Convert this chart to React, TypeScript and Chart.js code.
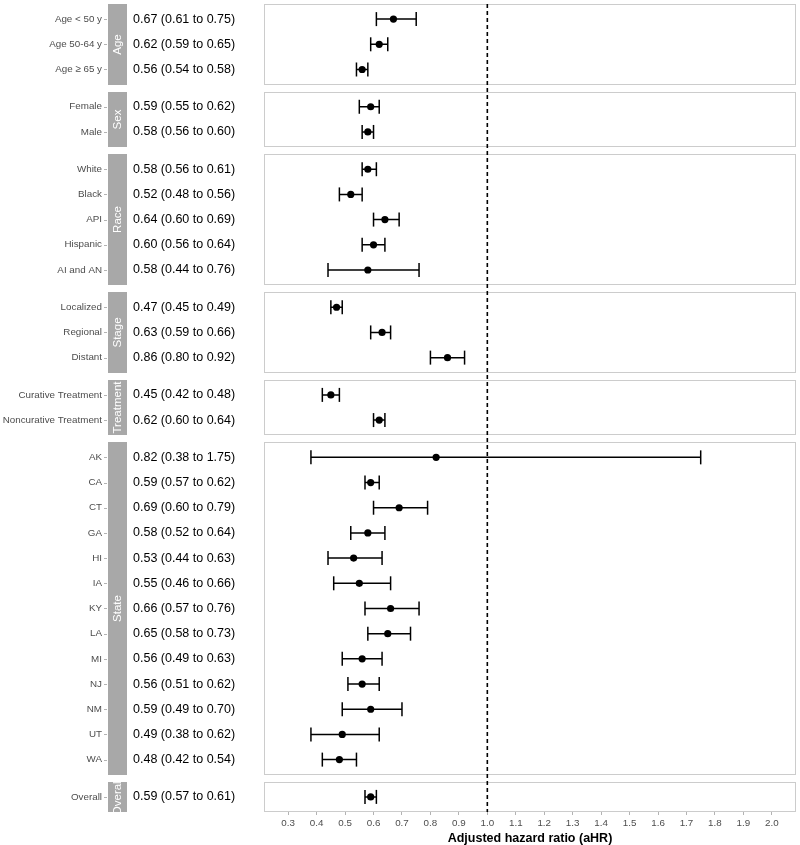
import React, { useEffect, useRef } from "react";
import { Chart, registerables } from "chart.js";

Chart.register(...registerables);

const rowLabels = [
  "Age < 50 y", "Age 50-64 y", "Age ≥ 65 y",
  "Female", "Male",
  "White", "Black", "API", "Hispanic", "AI and AN",
  "Localized", "Regional", "Distant",
  "Curative Treatment", "Noncurative Treatment",
  "AK", "CA", "CT", "GA", "HI", "IA", "KY", "LA", "MI", "NJ", "NM", "UT", "WA",
  "Overall",
];
const rowGroups = [
  "Age", "Age", "Age",
  "Sex", "Sex",
  "Race", "Race", "Race", "Race", "Race",
  "Stage", "Stage", "Stage",
  "Treatment", "Treatment",
  "State", "State", "State", "State", "State", "State", "State", "State", "State", "State", "State", "State", "State",
  "Overall",
];
const hrValues = [0.67, 0.62, 0.56, 0.59, 0.58, 0.58, 0.52, 0.64, 0.6, 0.58, 0.47, 0.63, 0.86, 0.45, 0.62,
  0.82, 0.59, 0.69, 0.58, 0.53, 0.55, 0.66, 0.65, 0.56, 0.56, 0.59, 0.49, 0.48, 0.59];
const lowerCI = [0.61, 0.59, 0.54, 0.55, 0.56, 0.56, 0.48, 0.6, 0.56, 0.44, 0.45, 0.59, 0.8, 0.42, 0.6,
  0.38, 0.57, 0.6, 0.52, 0.44, 0.46, 0.57, 0.58, 0.49, 0.51, 0.49, 0.38, 0.42, 0.57];
const upperCI = [0.75, 0.65, 0.58, 0.62, 0.6, 0.61, 0.56, 0.69, 0.64, 0.76, 0.49, 0.66, 0.92, 0.48, 0.64,
  1.75, 0.62, 0.79, 0.64, 0.63, 0.66, 0.76, 0.73, 0.63, 0.62, 0.7, 0.62, 0.54, 0.61];
const xTicks = [0.3, 0.4, 0.5, 0.6, 0.7, 0.8, 0.9, 1.0, 1.1, 1.2, 1.3, 1.4, 1.5, 1.6, 1.7, 1.8, 1.9, 2.0];
const referenceValue = 1.0;
const xTitle = "Adjusted hazard ratio (aHR)";

const FONT = "'Liberation Sans', Arial, Helvetica, sans-serif";
const EXPAND = 0.6;
const GAP = 0.28;

// build facet layout (in y units)
type Panel = { name: string; top: number; bottom: number };
const panels: Panel[] = [];
const rowPos: number[] = [];
(() => {
  let cursor = 0;
  let i = 0;
  while (i < rowGroups.length) {
    const g = rowGroups[i];
    const top = cursor;
    let k = 0;
    while (i < rowGroups.length && rowGroups[i] === g) {
      rowPos.push(top + EXPAND + k);
      k++;
      i++;
    }
    const bottom = top + (k - 1) + 2 * EXPAND;
    panels.push({ name: g, top, bottom });
    cursor = bottom + GAP;
  }
})();
const yMax = panels[panels.length - 1].bottom;

const facetPlugin = {
  id: "facets",
  beforeDatasetsDraw(chart: any) {
    const { ctx, chartArea, scales } = chart;
    const y = scales.y;
    ctx.save();
    panels.forEach((p) => {
      const top = Math.round(y.getPixelForValue(p.top));
      const bot = Math.round(y.getPixelForValue(p.bottom));
      ctx.strokeStyle = "#CCCCCC";
      ctx.lineWidth = 1;
      ctx.strokeRect(chartArea.left + 0.5, top + 0.5, chartArea.right - chartArea.left - 1, bot - top - 1);
      const sx = 108, sw = 19;
      ctx.fillStyle = "#A8A8A8";
      ctx.fillRect(sx, top, sw, bot - top);
      ctx.save();
      ctx.beginPath();
      ctx.rect(sx, top, sw, bot - top);
      ctx.clip();
      ctx.translate(sx + sw / 2, (top + bot) / 2);
      ctx.rotate(-Math.PI / 2);
      ctx.fillStyle = "#FFFFFF";
      ctx.font = `11.5px ${FONT}`;
      ctx.textAlign = "center";
      ctx.textBaseline = "middle";
      ctx.fillText(p.name, 0, 0.5);
      ctx.restore();
    });
    rowLabels.forEach((lab, i) => {
      const py = y.getPixelForValue(rowPos[i]);
      ctx.fillStyle = "#4D4D4D";
      ctx.font = `9.8px ${FONT}`;
      ctx.textAlign = "right";
      ctx.textBaseline = "middle";
      ctx.fillText(lab, 102, py);
      ctx.strokeStyle = "#B3B3B3";
      ctx.lineWidth = 1;
      ctx.beginPath();
      ctx.moveTo(104, Math.round(py) + 0.5);
      ctx.lineTo(107, Math.round(py) + 0.5);
      ctx.stroke();
      ctx.fillStyle = "#000000";
      ctx.font = `12.5px ${FONT}`;
      ctx.textAlign = "left";
      const txt = `${hrValues[i].toFixed(2)} (${lowerCI[i].toFixed(2)} to ${upperCI[i].toFixed(2)})`;
      ctx.fillText(txt, 133, py);
    });
    ctx.restore();
  },
};

export default function App() {
  const ref = useRef<HTMLCanvasElement | null>(null);
  useEffect(() => {
    if (!ref.current) return;
    const whiskers: any[] = [];
    const caps: any[] = [];
    rowPos.forEach((p, i) => {
      whiskers.push({ x: lowerCI[i], y: p }, { x: upperCI[i], y: p }, { x: null, y: null });
      caps.push({ x: lowerCI[i], y: p }, { x: upperCI[i], y: p });
    });
    const points = rowPos.map((p, i) => ({ x: hrValues[i], y: p }));
    const chart = new Chart(ref.current, {
      type: "line",
      data: {
        datasets: [
          {
            data: points,
            showLine: false,
            pointRadius: 3.6,
            pointBackgroundColor: "#000",
            pointBorderColor: "#000",
            pointBorderWidth: 0,
            order: 0,
          },
          {
            data: caps,
            showLine: false,
            pointStyle: "line",
            rotation: 90,
            pointRadius: 7,
            pointBorderColor: "#000",
            pointBorderWidth: 1.5,
            order: 1,
          },
          {
            data: whiskers,
            borderColor: "#000",
            borderWidth: 1.5,
            pointRadius: 0,
            spanGaps: false,
            order: 2,
          },
          {
            data: [{ x: referenceValue, y: 0 }, { x: referenceValue, y: yMax }],
            borderColor: "#000",
            borderWidth: 1.6,
            borderDash: [4, 3],
            pointRadius: 0,
            order: 3,
          },
        ] as any,
      },
      options: {
        animation: false,
        responsive: false,
        events: [],
        layout: { autoPadding: false, padding: { left: 264, right: 4, top: 4, bottom: 0 } },
        plugins: { legend: { display: false }, tooltip: { enabled: false } },
        scales: {
          x: {
            type: "linear",
            min: 0.215,
            max: 2.085,
            afterBuildTicks: (s: any) => {
              s.ticks = xTicks.map((v) => ({ value: v }));
            },
            afterFit: (s: any) => {
              s.height = 33;
              s.paddingLeft = 0;
              s.paddingRight = 0;
              s.paddingTop = 0;
              s.paddingBottom = 0;
            },
            ticks: {
              callback: (v: any) => Number(v).toFixed(1),
              color: "#4D4D4D",
              font: { family: FONT, size: 9.8 },
              padding: 2,
              autoSkip: false,
              maxRotation: 0,
            },
            grid: { display: true, drawOnChartArea: false, drawTicks: true, tickLength: 3, color: "#B3B3B3" },
            border: { display: false },
            title: {
              display: true,
              text: xTitle,
              color: "#000",
              font: { family: FONT, size: 12.5, weight: "bold" },
              padding: { top: 0, bottom: -1 },
            },
          },
          y: { type: "linear", min: 0, max: yMax, reverse: true, display: false },
        },
      },
      plugins: [facetPlugin],
    });
    return () => chart.destroy();
  }, []);
  return (
    <div style={{ position: "absolute", left: 0, top: 0, width: 800, height: 845, background: "#fff" }}>
      <canvas ref={ref} width={800} height={845} style={{ display: "block" }} />
    </div>
  );
}
